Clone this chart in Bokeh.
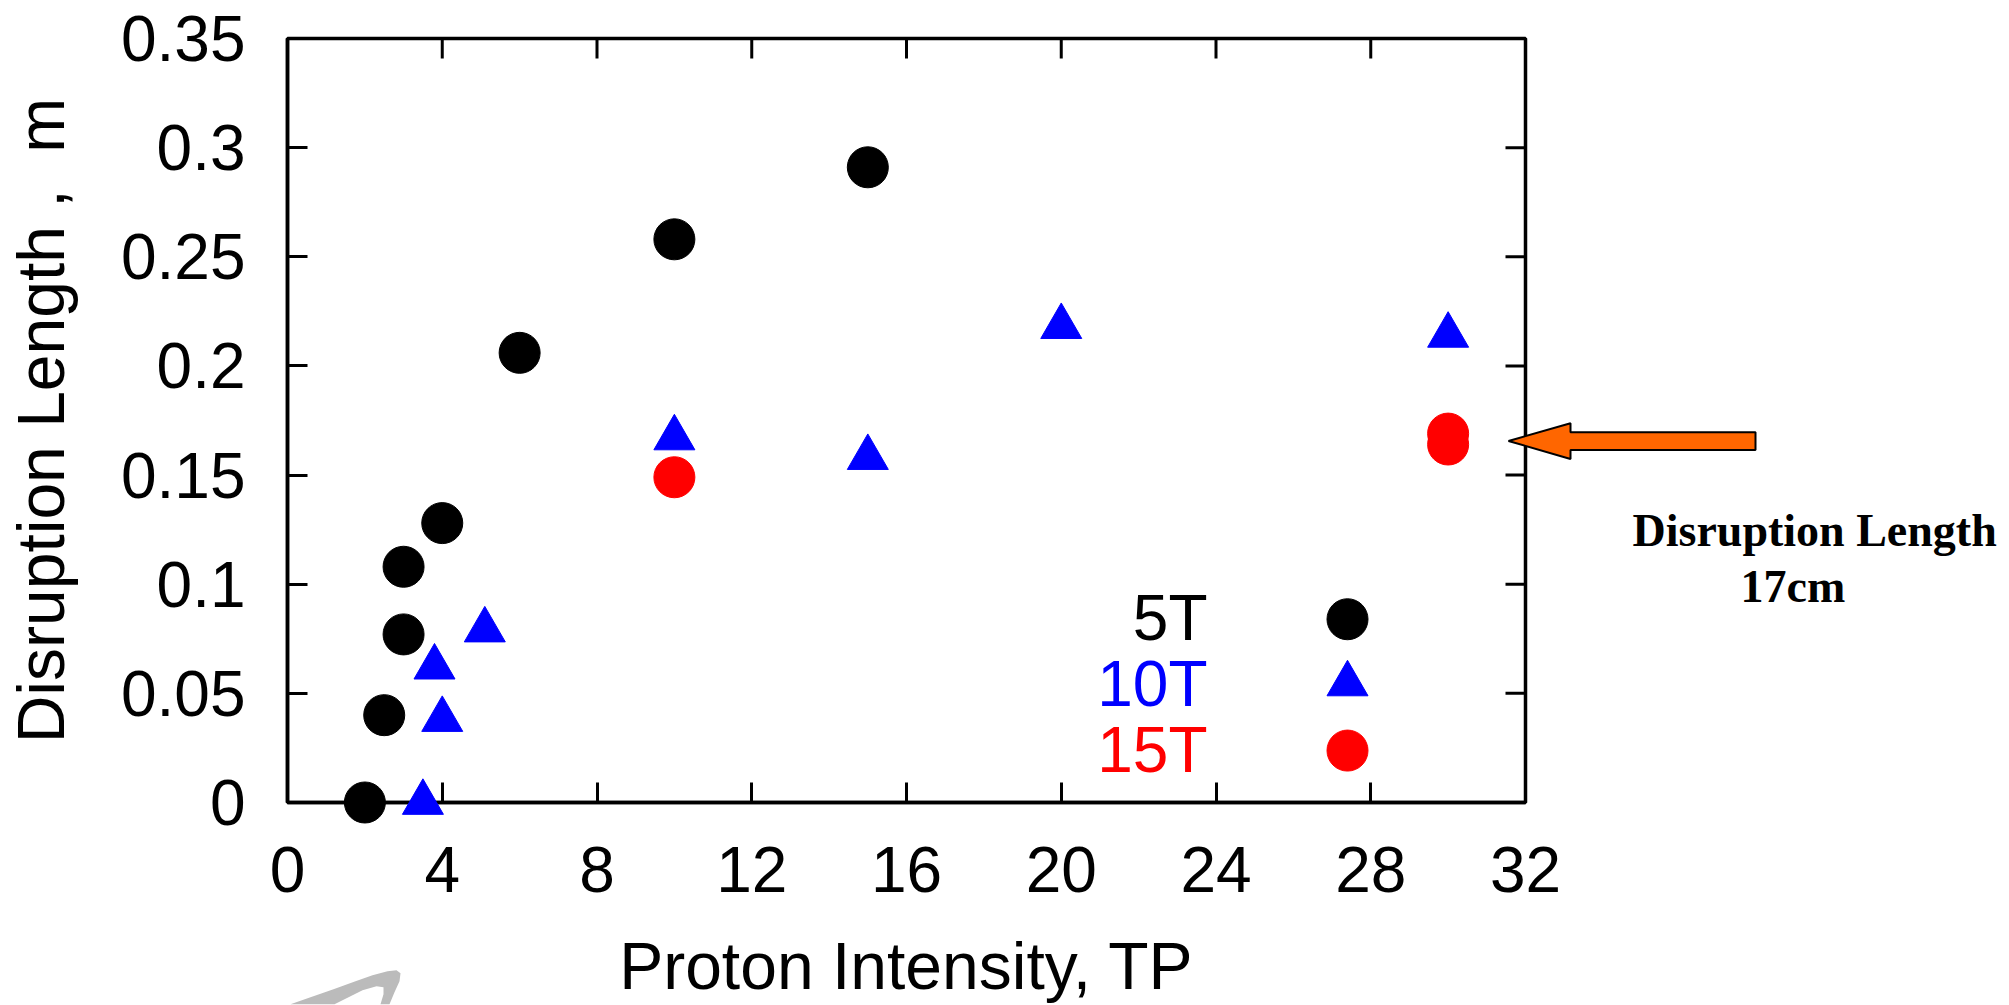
from bokeh.plotting import figure
from bokeh.models import Range1d, FixedTicker
from bokeh.core.properties import value
from bokeh.embed import file_html
from bokeh.resources import INLINE

# ---------------- data ----------------
series_names = ["5T", "10T", "15T"]
series_colors = ["#000000", "#0000FF", "#FF0000"]
series_markers = ["circle", "triangle", "circle"]

x_5T = [2.0, 2.5, 3.0, 3.0, 4.0, 6.0, 10.0, 15.0]
y_5T = [0.0, 0.040, 0.077, 0.108, 0.128, 0.206, 0.258, 0.291]

x_10T = [3.5, 3.8, 4.0, 5.1, 10.0, 15.0, 20.0, 30.0]
y_10T = [0.0, 0.062, 0.038, 0.079, 0.167, 0.158, 0.218, 0.214]

x_15T = [10.0, 30.0, 30.0]
y_15T = [0.149, 0.169, 0.164]

x_ticks = [0, 4, 8, 12, 16, 20, 24, 28, 32]
y_ticks = [0, 0.05, 0.1, 0.15, 0.2, 0.25, 0.3, 0.35]
y_tick_labels = ["0", "0.05", "0.1", "0.15", "0.2", "0.25", "0.3", "0.35"]

x_title = "Proton Intensity, TP"
y_title = "Disruption Length ,\u00a0 m"
note_lines = ["Disruption Length", "17cm"]

# ---------------- layout ----------------
W, H = 2009, 1005
FL, FR, FT, FB = 287, 1525, 38, 803       # frame edges in page pixels
X0, X1, Y0, Y1 = 0, 32, 0, 0.35

def dx(px):
    return X0 + (px - FL) * (X1 - X0) / (FR - FL)

def dy(py):
    return Y0 + (FB - py) * (Y1 - Y0) / (FB - FT)

p = figure(width=W, height=H, x_range=Range1d(X0, X1), y_range=Range1d(Y0, Y1),
           output_backend="svg", toolbar_location=None,
           min_border_left=FL, min_border_right=W - FR,
           min_border_top=FT, min_border_bottom=H - FB)
p.background_fill_color = "white"
p.border_fill_color = "white"
p.outline_line_color = "black"
p.outline_line_width = 3.5
p.grid.visible = False

TICK_LEN = 20

def style_axis(ax, ticks):
    ax.ticker = FixedTicker(ticks=ticks)
    ax.axis_line_color = "black"
    ax.axis_line_width = 3.5
    ax.major_tick_line_color = "black"
    ax.major_tick_line_width = 3
    ax.major_tick_in = TICK_LEN
    ax.major_tick_out = 0
    ax.minor_tick_in = 0
    ax.minor_tick_out = 0
    ax.major_label_text_font = "Liberation Sans"
    ax.major_label_text_color = "black"
    ax.major_label_text_font_size = "64px"
    ax.axis_label_text_font = "Liberation Sans"
    ax.axis_label_text_font_style = "normal"
    ax.axis_label_text_color = "black"
    ax.axis_label_text_font_size = "66px"

xa = p.xaxis[0]
style_axis(xa, x_ticks)
xa.major_label_standoff = 44
xa.axis_label = x_title
xa.axis_label_standoff = 34

ya = p.yaxis[0]
style_axis(ya, y_ticks)
ya.major_label_overrides = dict(zip(y_ticks, y_tick_labels))
ya.major_label_standoff = 42
ya.axis_label = y_title
ya.axis_label_standoff = 40

# mirrored inward ticks on the top and right frame edges
tl_x = dx(FL + TICK_LEN) - dx(FL)
tl_y = dy(FB - TICK_LEN) - dy(FB)
top_t = x_ticks[1:-1]
right_t = y_ticks[1:-1]
p.segment(x0=top_t, y0=[Y1] * len(top_t), x1=top_t, y1=[Y1 - tl_y] * len(top_t),
          line_color="black", line_width=3)
p.segment(x0=[X1] * len(right_t), y0=right_t, x1=[X1 - tl_x] * len(right_t), y1=right_t,
          line_color="black", line_width=3)

# ---------------- data marks ----------------
MS = 41
for xs, ys, c, m in [(x_5T, y_5T, series_colors[0], series_markers[0]),
                     (x_10T, y_10T, series_colors[1], series_markers[1]),
                     (x_15T, y_15T, series_colors[2], series_markers[2])]:
    p.scatter(xs, ys, marker=m, size=MS, fill_color=c, line_color=c, level="overlay")

# ---------------- legend (text left, key right) ----------------
BASE_FIX = 0.36   # svg text baseline correction, in em
leg_text_x = dx(1207)
leg_key_x = dx(1347)
leg_base = [641.5, 707, 773]
leg_key_y = [619.5, 684.3, 751]
p.text(x=[leg_text_x] * 3, y=[dy(b - BASE_FIX * 64) for b in leg_base], text=series_names,
       text_color=series_colors, text_align="right", text_baseline="alphabetic",
       text_font=value("Liberation Sans"), text_font_size="64px", level="overlay")
for c, m, ky in zip(series_colors, series_markers, leg_key_y):
    p.scatter([leg_key_x], [dy(ky)], marker=m, size=MS, fill_color=c, line_color=c,
              level="overlay")

# ---------------- arrow annotation ----------------
arrow_px = [(1508, 441), (1570, 423.3), (1570, 432.3), (1755, 432.3),
            (1755, 450), (1570, 450), (1570, 459)]
p.patch([dx(a) for a, b in arrow_px], [dy(b) for a, b in arrow_px],
        fill_color="#FF6600", line_color="black", line_width=2, level="overlay")

p.text(x=[dx(1632), dx(1740)], y=[dy(547 - BASE_FIX * 46), dy(603 - BASE_FIX * 46)],
       text=note_lines, text_align="left", text_baseline="alphabetic",
       text_font=value("Liberation Serif"), text_font_style="bold",
       text_font_size="46px", text_color="black", level="overlay")

# ---------------- faint logo swoosh (bottom-left) ----------------
swoosh_px = [(290, 1005), (310, 998), (333, 990), (355, 982), (372, 976), (387, 972),
             (396, 971), (400, 974), (399, 982), (394, 993), (389, 1005),
             (380, 1005), (383, 995), (383, 988), (376, 987), (362, 991),
             (350, 997), (338, 1003), (334, 1005)]
p.patch([dx(a) for a, b in swoosh_px], [dy(b) for a, b in swoosh_px],
        fill_color="#BBBBBB", line_color=None, level="overlay")

open("out.html", "w").write(file_html(p, INLINE))
